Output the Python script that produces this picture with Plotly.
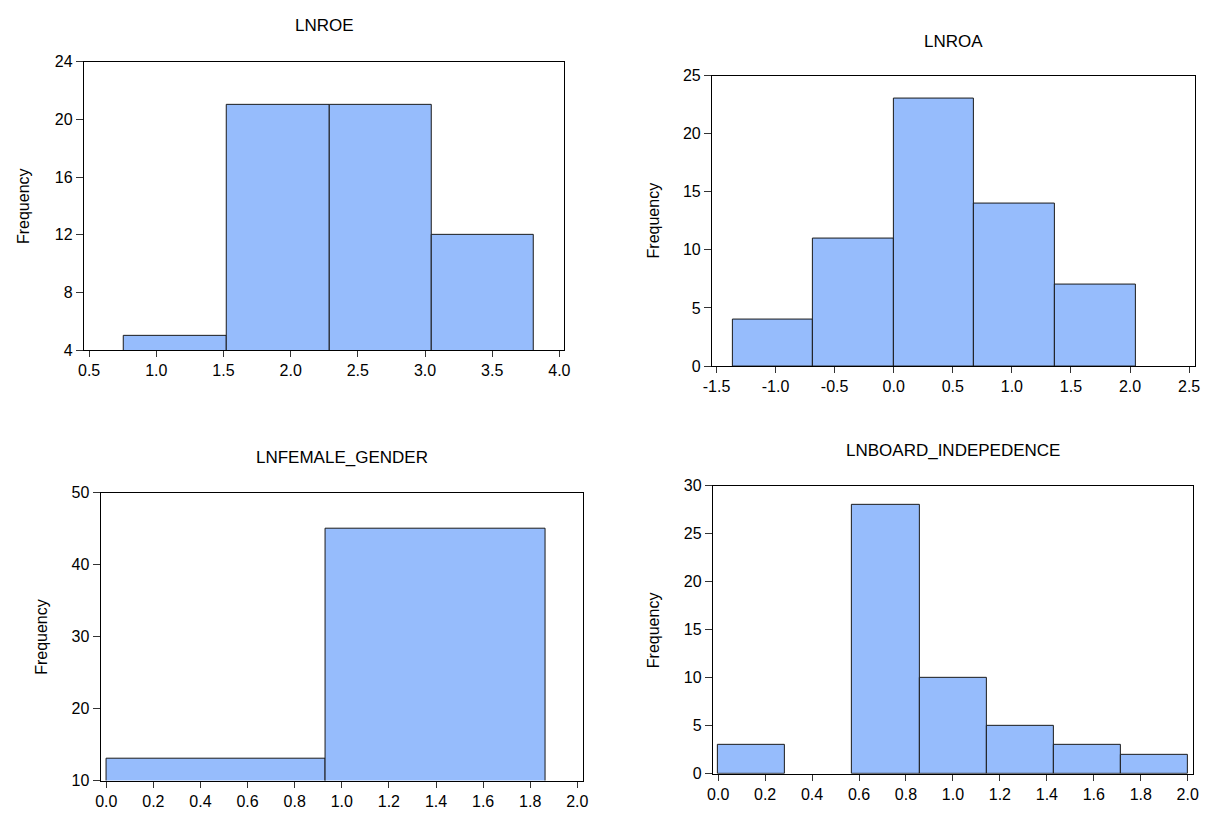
import numpy as np
import plotly.graph_objects as go

# ---- data ----
roe_edges = [0.756, 1.522, 2.288, 3.050, 3.812]
roe_counts = [5, 21, 21, 12]

roa_edges = [-1.364, -0.682, 0.0, 0.682, 1.364, 2.046]
roa_counts = [4, 11, 23, 14, 7]

fem_edges = [0.0, 0.932, 1.864]
fem_counts = [13, 45]

brd_edges = [0.0, 0.2857, 0.5714, 0.8571, 1.1429, 1.4286, 1.7143, 2.0]
brd_counts = [3, 0, 28, 10, 5, 3, 2]

titles = ["LNROE", "LNROA", "LNFEMALE_GENDER", "LNBOARD_INDEPEDENCE"]

roe_xticks = [0.5, 1.0, 1.5, 2.0, 2.5, 3.0, 3.5, 4.0]
roa_xticks = [-1.5, -1.0, -0.5, 0.0, 0.5, 1.0, 1.5, 2.0, 2.5]
fem_xticks = [0.0, 0.2, 0.4, 0.6, 0.8, 1.0, 1.2, 1.4, 1.6, 1.8, 2.0]
brd_xticks = [0.0, 0.2, 0.4, 0.6, 0.8, 1.0, 1.2, 1.4, 1.6, 1.8, 2.0]

roe_yticks = [4, 8, 12, 16, 20, 24]
roa_yticks = [0, 5, 10, 15, 20, 25]
fem_yticks = [10, 20, 30, 40, 50]
brd_yticks = [0, 5, 10, 15, 20, 25, 30]

W, H = 1210, 816
FONT = "Liberation Sans, Arial, sans-serif"
FILL = "#96BCFC"

panels = [
    dict(edges=roe_edges, counts=roe_counts, xticks=roe_xticks, yticks=roe_yticks,
         xr=[0.460, 4.037], yr=[4, 24], box=(75.7, 562.3, 55, 349.3),
         title_y=18, ylab_x=15.3),
    dict(edges=roa_edges, counts=roa_counts, xticks=roa_xticks, yticks=roa_yticks,
         xr=[-1.539, 2.548], yr=[0, 25], box=(711.7, 1200.7, 69, 365.7),
         title_y=34, ylab_x=652.7),
    dict(edges=fem_edges, counts=fem_counts, xticks=fem_xticks, yticks=fem_yticks,
         xr=[-0.0243, 2.022], yr=[10, 50], box=(92.7, 580.7, 495, 789),
         title_y=459, ylab_x=32.6),
    dict(edges=brd_edges, counts=brd_counts, xticks=brd_xticks, yticks=brd_yticks,
         xr=[-0.0227, 2.0244], yr=[0, 30], box=(712.7, 1199.3, 488, 782),
         title_y=452, ylab_x=652.5),
]

fig = go.Figure()
annotations = []
for i, p in enumerate(panels):
    n = "" if i == 0 else str(i + 1)
    edges = np.array(p["edges"])
    centers = (edges[:-1] + edges[1:]) / 2
    widths = np.diff(edges)
    line_w = [1 if c > 0 else 0 for c in p["counts"]]
    fig.add_trace(go.Bar(
        x=centers, y=p["counts"], width=widths,
        marker=dict(color=FILL, line=dict(color="#1a1a1a", width=line_w)),
        xaxis="x" + n, yaxis="y" + n, showlegend=False, hoverinfo="x+y",
    ))
    x0, x1, y0, y1 = p["box"]
    dom_x = [x0 / W, x1 / W]
    dom_y = [1 - y1 / H, 1 - y0 / H]
    common = dict(showline=True, linecolor="black", linewidth=1, mirror=True,
                  showgrid=False, zeroline=False, ticks="outside",
                  tickcolor="#333", tickwidth=1,
                  tickfont=dict(family=FONT, size=16, color="black"))
    fig.layout["xaxis" + n] = dict(domain=dom_x, range=p["xr"], anchor="y" + n,
                                   tickvals=p["xticks"], ticklen=6,
                                   ticktext=[f"{v:.1f}" for v in p["xticks"]],
                                   **common)
    fig.layout["yaxis" + n] = dict(domain=dom_y, range=p["yr"], anchor="x" + n,
                                   tickvals=p["yticks"], ticklen=7,
                                   ticktext=[str(v) for v in p["yticks"]],
                                   **common)
    annotations.append(dict(text=titles[i], xref="paper", yref="paper",
                            x=(x0 + x1) / 2 / W, y=1 - p["title_y"] / H,
                            xanchor="center", yanchor="middle", showarrow=False,
                            font=dict(family=FONT, size=17, color="black")))
    annotations.append(dict(text="Frequency", xref="paper", yref="paper",
                            x=p["ylab_x"] / W, y=1 - (y0 + y1) / 2 / H,
                            xanchor="center", yanchor="middle", showarrow=False,
                            textangle=-90,
                            font=dict(family=FONT, size=16, color="black")))

fig.update_layout(width=W, height=H, margin=dict(l=0, r=0, t=0, b=0),
                  paper_bgcolor="white", plot_bgcolor="white",
                  bargap=0, annotations=annotations)
fig.write_html("out.html", config={"displayModeBar": False},
               post_script="document.body.style.margin='0';document.body.style.overflow='hidden';")
